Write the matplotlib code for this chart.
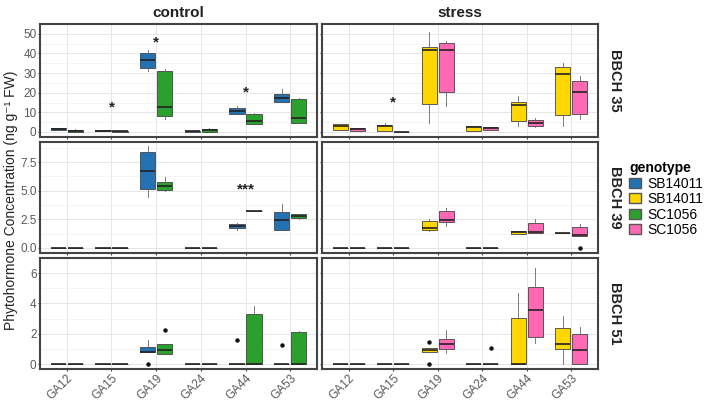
import matplotlib
matplotlib.use("Agg")
import matplotlib.pyplot as plt
from matplotlib.patches import Patch

plt.rcParams['font.family'] = ['Liberation Sans', 'DejaVu Sans']

# categories / facets
ga_labels = ['GA12', 'GA15', 'GA19', 'GA24', 'GA44', 'GA53']
treatments = ['control', 'stress']
stages = ['BBCH 35', 'BBCH 39', 'BBCH 51']

# box stats per GA: (whislo, q1, med, q3, whishi, fliers)
Z = (0, 0, 0, 0, 0, [])

ctrl35_sb = [(1.0, 1.2, 1.5, 1.8, 2.0, []), (0.5, 0.5, 0.7, 0.8, 0.8, []),
             (31.0, 32.6, 36.8, 40.4, 41.7, []), (0.2, 0.2, 0.3, 0.4, 0.4, []),
             (9.1, 9.4, 10.6, 12.4, 13.1, []), (15.2, 15.4, 17.4, 19.4, 21.9, [])]
ctrl35_sc = [(0.0, 0.1, 0.7, 1.2, 1.3, []), (0.2, 0.2, 0.3, 0.3, 0.3, []),
             (6.5, 8.1, 12.6, 31.0, 32.1, []), (0.0, 0.2, 1.0, 1.5, 1.8, []),
             (4.1, 4.1, 5.8, 9.1, 9.8, []), (4.5, 4.8, 7.1, 16.7, 17.2, [])]
strs35_sb = [(0.8, 0.8, 3.3, 4.1, 4.1, []), (0.3, 0.3, 2.8, 3.8, 4.8, []),
             (4.5, 14.1, 41.7, 43.4, 50.8, []), (0.3, 0.3, 2.3, 2.8, 2.8, []),
             (3.1, 5.5, 13.9, 15.1, 18.2, []), (2.8, 8.9, 29.6, 33.3, 34.9, [])]
strs35_sc = [(0.7, 0.7, 1.3, 2.0, 2.0, []), (0.2, 0.2, 0.2, 0.2, 0.2, []),
             (13.1, 20.2, 41.7, 45.5, 46.4, []), (1.2, 1.2, 1.8, 2.5, 2.5, []),
             (2.5, 2.8, 4.5, 6.1, 7.0, []), (6.5, 9.3, 20.4, 26.2, 28.6, [])]

ctrl39_sb = [Z, Z, (4.48, 5.13, 6.68, 8.38, 8.94, []), Z,
             (1.61, 1.70, 1.90, 2.08, 2.17, []), (1.55, 1.55, 2.43, 3.16, 3.80, [])]
ctrl39_sc = [Z, Z, (5.0, 5.07, 5.45, 5.8, 6.18, []), Z,
             (3.22, 3.22, 3.22, 3.22, 3.22, []), (2.55, 2.58, 2.78, 2.96, 3.0, [])]
strs39_sb = [Z, Z, (1.44, 1.61, 1.73, 2.31, 2.52, []), Z,
             (1.26, 1.26, 1.35, 1.46, 1.46, []), (1.30, 1.31, 1.32, 1.34, 1.35, [])]
strs39_sc = [Z, Z, (1.93, 2.23, 2.40, 3.19, 3.49, []), Z,
             (1.29, 1.29, 1.41, 2.14, 2.49, []), (1.03, 1.03, 1.14, 1.79, 2.05, [0.0])]

ctrl51_sb = [Z, Z, (0.79, 0.79, 0.83, 1.14, 1.61, [0.0]), Z,
             (0, 0, 0, 0, 0, [1.61]), (0, 0, 0, 0, 0, [1.26])]
ctrl51_sc = [Z, Z, (0.70, 0.70, 0.93, 1.32, 1.32, [2.28]), Z,
             (0.0, 0.0, 0.0, 3.29, 3.83, []), (0.0, 0.0, 0.0, 2.13, 2.21, [])]
strs51_sb = [Z, Z, (0.79, 0.79, 0.93, 1.05, 1.05, [1.49, 0.0]), Z,
             (0.0, 0.0, 0.0, 3.02, 4.72, []), (0.0, 1.03, 1.30, 2.36, 3.19, [])]
strs51_sc = [Z, Z, (0.72, 1.01, 1.32, 1.63, 2.28, []), (0, 0, 0, 0, 0, [1.08]),
             (1.39, 1.80, 3.56, 5.07, 6.31, []), (0.0, 0.0, 0.93, 1.97, 2.48, [])]

# significance marks: (row, col, GA index, y, text)
stars = [(0, 0, 1, 12.6, '*'), (0, 0, 2, 45.7, '*'), (0, 0, 4, 20.2, '*'),
         (0, 1, 1, 15.2, '*'), (1, 0, 4, 5.1, '***')]

row_ylim = [(-2.55, 53.6), (-0.44, 9.25), (-0.32, 6.62)]
row_ticks = [[0, 10, 20, 30, 40, 50], [0.0, 2.5, 5.0, 7.5], [0, 2, 4, 6]]
row_ticklabels = [['0', '10', '20', '30', '40', '50'], ['0.0', '2.5', '5.0', '7.5'],
                  ['0', '2', '4', '6']]

colors = {'ctrl_sb': '#2272b4', 'ctrl_sc': '#2ca02c',
          'strs_sb': '#ffd700', 'strs_sc': '#ff69b4'}

panels = {
    (0, 0): (ctrl35_sb, ctrl35_sc, colors['ctrl_sb'], colors['ctrl_sc']),
    (0, 1): (strs35_sb, strs35_sc, colors['strs_sb'], colors['strs_sc']),
    (1, 0): (ctrl39_sb, ctrl39_sc, colors['ctrl_sb'], colors['ctrl_sc']),
    (1, 1): (strs39_sb, strs39_sc, colors['strs_sb'], colors['strs_sc']),
    (2, 0): (ctrl51_sb, ctrl51_sc, colors['ctrl_sb'], colors['ctrl_sc']),
    (2, 1): (strs51_sb, strs51_sc, colors['strs_sb'], colors['strs_sc']),
}


def to_stats(rows):
    out = []
    for lo, q1, med, q3, hi, fl in rows:
        out.append(dict(whislo=lo, q1=q1, med=med, q3=q3, whishi=hi, fliers=fl))
    return out


W, H = 709, 409
fig = plt.figure(figsize=(W / 100, H / 100), dpi=100)

col_x = [(40, 317), (322, 598)]
row_y = [(24, 137), (142, 253), (258, 369)]

edge = '#444444'
grid_c = '#e6e6e6'
tick_c = '#5a5a5a'

for (r, c), (sb, sc, col_sb, col_sc) in panels.items():
    x0, x1 = col_x[c]
    y0, y1 = row_y[r]
    ax = fig.add_axes([x0 / W, 1 - y1 / H, (x1 - x0) / W, (y1 - y0) / H])
    ax.set_facecolor('white')
    ax.set_axisbelow(True)

    pos = list(range(1, 7))
    for data, colr, off in ((sb, col_sb, -0.19), (sc, col_sc, 0.19)):
        ax.bxp(to_stats(data), positions=[p + off for p in pos], widths=0.34,
               patch_artist=True, showcaps=False,
               boxprops=dict(facecolor=colr, edgecolor='#444444', linewidth=0.6),
               medianprops=dict(color='#222222', linewidth=1.2),
               whiskerprops=dict(color='#666666', linewidth=0.6),
               flierprops=dict(marker='o', markersize=2.2, markerfacecolor='#111111',
                               markeredgecolor='#111111'))

    for rr, cc, gi, yv, txt in stars:
        if rr == r and cc == c:
            ax.text(gi + 1, yv, txt, ha='center', va='center', fontsize=11,
                    fontweight='bold', color='#222222')

    ax.set_xlim(0.4, 6.6)
    ax.set_ylim(*row_ylim[r])
    ticks = row_ticks[r]
    ax.set_yticks(ticks)
    step = ticks[1] - ticks[0]
    ax.set_yticks([t + step / 2 for t in ticks], minor=True)
    ax.set_xticks(pos)
    ax.grid(True, which='major', color=grid_c, linewidth=0.7)
    ax.grid(True, which='minor', axis='y', color='#f0f0f0', linewidth=0.5)
    ax.tick_params(which='minor', length=0)
    ax.tick_params(which='major', length=1.5, color='#444444', labelsize=8.5,
                   labelcolor=tick_c, pad=1)

    if c == 0:
        ax.set_yticklabels(row_ticklabels[r])
    else:
        ax.set_yticklabels([])
    if r == 2:
        ax.set_xticklabels(ga_labels, rotation=45, ha='right', rotation_mode='anchor')
    else:
        ax.set_xticklabels([])

    for s in ax.spines.values():
        s.set_color(edge)
        s.set_linewidth(1.5)

    if r == 0:
        ax.set_title(treatments[c], fontsize=11, fontweight='bold', pad=5,
                     color='#222222')
    if c == 1:
        ax.text(1.035, 0.5, stages[r], transform=ax.transAxes, rotation=-90,
                ha='left', va='center', fontsize=10.5, fontweight='bold',
                color='#222222')

fig.text(11 / W, 1 - 200 / H, 'Phytohormone Concentration (ng g\u207b\u00b9 FW)',
         rotation=90, ha='center', va='center', fontsize=10, color='#222222')

handles = [Patch(facecolor=colors['ctrl_sb'], edgecolor='#555555', label='SB14011'),
           Patch(facecolor=colors['strs_sb'], edgecolor='#555555', label='SB14011'),
           Patch(facecolor=colors['ctrl_sc'], edgecolor='#555555', label='SC1056'),
           Patch(facecolor=colors['strs_sc'], edgecolor='#555555', label='SC1056')]
leg = fig.legend(handles=handles, title='genotype', loc='upper left',
                 bbox_to_anchor=(628 / W, 1 - 160 / H), frameon=False,
                 fontsize=10, title_fontsize=10, handlelength=0.8,
                 handleheight=0.7, handletextpad=0.5, labelspacing=0.1,
                 borderpad=0.1, borderaxespad=0)
leg.get_title().set_fontweight('bold')
leg._legend_box.align = 'left'

fig.savefig('out.png', dpi=100)
